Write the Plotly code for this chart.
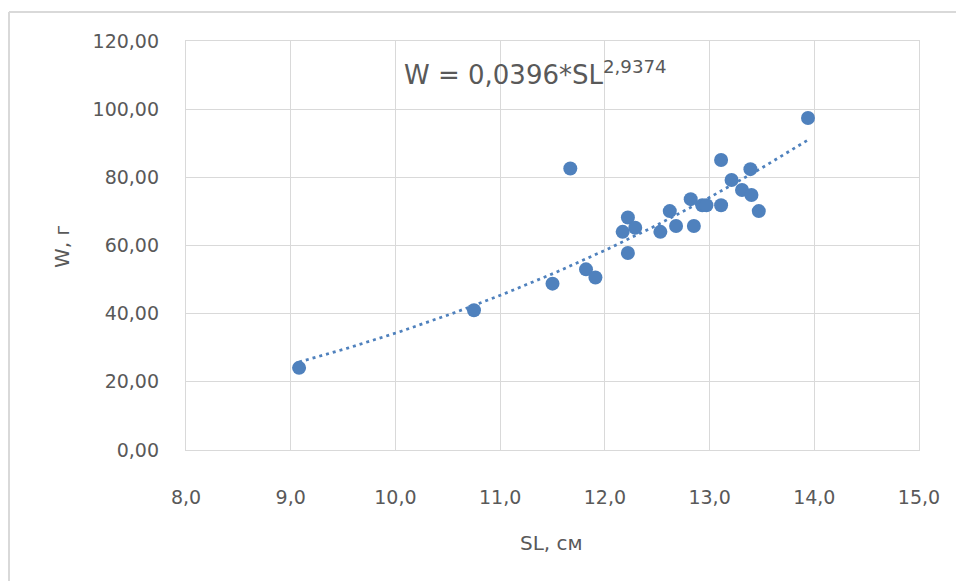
import numpy as np
import plotly.graph_objects as go

# Data
sl_cm = [9.08, 10.75, 11.50, 11.67, 11.82, 11.91, 12.17, 12.22, 12.22, 12.29,
         12.53, 12.62, 12.68, 12.82, 12.85, 12.93, 12.97, 13.11, 13.11, 13.21,
         13.31, 13.39, 13.40, 13.47, 13.94]
w_g = [24.1, 41.0, 48.8, 82.6, 53.0, 50.6, 64.0, 68.2, 57.8, 65.2,
       64.0, 70.1, 65.7, 73.6, 65.7, 71.8, 71.8, 85.1, 71.8, 79.2,
       76.3, 82.4, 74.8, 70.1, 97.4]

# Power trendline coefficients shown on the chart
fit_a = 0.0396
fit_b = 2.9374

x_ticks = [8, 9, 10, 11, 12, 13, 14, 15]
y_ticks = [0, 20, 40, 60, 80, 100, 120]

BLUE = "#4F81BD"
GRID = "#D9D9D9"
TXT = "#595959"
FONT = "DejaVu Sans"

trend_x = np.linspace(min(sl_cm), max(sl_cm), 200)
trend_y = fit_a * trend_x ** fit_b

fig = go.Figure()
fig.add_trace(go.Scatter(
    x=trend_x, y=trend_y, mode="lines",
    line=dict(color=BLUE, width=2.75, dash="3px,4px"),
    hoverinfo="skip", showlegend=False))
fig.add_trace(go.Scatter(
    x=sl_cm, y=w_g, mode="markers",
    marker=dict(color=BLUE, size=14, line=dict(width=0)),
    showlegend=False))

W, H = 956, 581
ml, mr, mt, mb = 186, 37, 41, 131
pw, ph = W - ml - mr, H - mt - mb

def px_x(p):
    return (p - ml) / pw

def px_y(p):
    return (H - mb - p) / ph

fig.update_layout(
    width=W, height=H,
    margin=dict(l=ml, r=mr, t=mt, b=mb, pad=0),
    paper_bgcolor="white", plot_bgcolor="white",
    separators=",.",
    font=dict(family=FONT, color=TXT, size=19),
    xaxis=dict(range=[8, 15], tickvals=x_ticks, tickformat=".1f",
               showgrid=True, gridcolor=GRID, gridwidth=1.3,
               showline=True, linecolor=GRID, linewidth=1.3, mirror=True,
               zeroline=False, ticks="", ticklabelstandoff=30,
               tickfont=dict(family=FONT, size=19, color=TXT)),
    yaxis=dict(range=[0, 120], tickvals=y_ticks, tickformat=".2f",
               showgrid=True, gridcolor=GRID, gridwidth=1.3,
               showline=True, linecolor=GRID, linewidth=1.3, mirror=True,
               zeroline=False, ticks="", ticklabelstandoff=22,
               tickfont=dict(family=FONT, size=19, color=TXT)),
    annotations=[
        dict(x=px_x(402), y=px_y(73), xref="paper", yref="paper",
             xanchor="left", yanchor="middle", showarrow=False,
             text="W = 0,0396*SL<sup>2,9374</sup>",
             font=dict(family=FONT, size=26, color=TXT)),
        dict(x=px_x(551), y=px_y(543), xref="paper", yref="paper",
             xanchor="center", yanchor="middle", showarrow=False,
             text="SL, см", font=dict(family=FONT, size=20, color=TXT)),
        dict(x=px_x(62), y=px_y(247), xref="paper", yref="paper",
             xanchor="center", yanchor="middle", showarrow=False,
             text="W, г", textangle=-90,
             font=dict(family=FONT, size=20, color=TXT)),
    ],
    shapes=[
        dict(type="line", xref="paper", yref="paper",
             x0=px_x(9), x1=px_x(9), y0=px_y(12), y1=px_y(581),
             line=dict(color=GRID, width=2)),
        dict(type="line", xref="paper", yref="paper",
             x0=px_x(9), x1=px_x(960), y0=px_y(12), y1=px_y(12),
             line=dict(color=GRID, width=2)),
    ],
)

fig.write_html("out.html",
               config={"displayModeBar": False},
               post_script="document.body.style.margin='0';"
                           "document.body.style.overflow='hidden';")
